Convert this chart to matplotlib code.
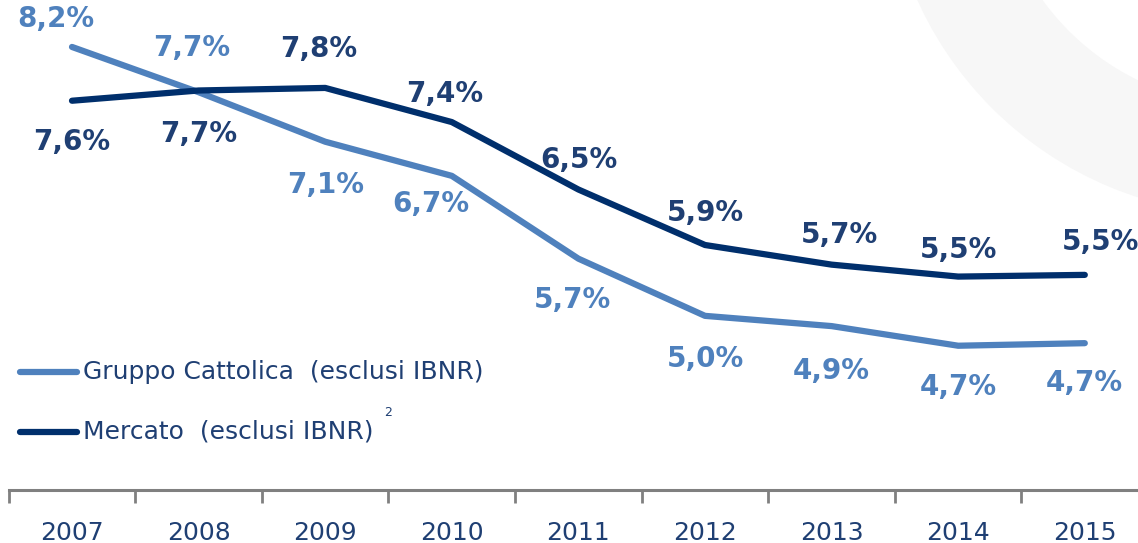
import numpy as np
import matplotlib
matplotlib.use("Agg")
import matplotlib.pyplot as plt
from matplotlib.patches import Wedge

years = ["2007", "2008", "2009", "2010", "2011", "2012", "2013", "2014", "2015"]
cattolica = [8.2, 7.67, 7.09, 6.69, 5.72, 5.05, 4.93, 4.70, 4.73]
mercato = [7.57, 7.69, 7.72, 7.32, 6.53, 5.88, 5.65, 5.51, 5.53]
cattolica_lbl = ["8,2%", "7,7%", "7,1%", "6,7%", "5,7%", "5,0%", "4,9%", "4,7%", "4,7%"]
mercato_lbl = ["7,6%", "7,7%", "7,8%", "7,4%", "6,5%", "5,9%", "5,7%", "5,5%", "5,5%"]

light = "#4F81BD"
dark = "#002F6C"
txt = "#1F3F73"

W, H = 1138, 543
fig = plt.figure(figsize=(W / 100, H / 100), dpi=100)

# background decoration (light grey ring top right)
bg = fig.add_axes([0, 0, 1, 1], zorder=0)
bg.set_xlim(0, W)
bg.set_ylim(H, 0)
bg.axis("off")
bg.add_patch(Wedge((1250, -150), 365, 0, 360, width=109, color="#F7F7F7", lw=0))

step = 126.6
left = 72 - step / 2
ax = fig.add_axes([left / W, 53 / H, 9 * step / W, 1 - 53 / H], zorder=1)
ax.patch.set_alpha(0)
x = np.arange(len(years))
ax.set_xlim(-0.5, 8.5)
ax.set_ylim(3.01, 8.75)

ax.plot(x, cattolica, color=light, lw=4.5, solid_capstyle="round", solid_joinstyle="round")
ax.plot(x, mercato, color=dark, lw=4.5, solid_capstyle="round", solid_joinstyle="round")

# label offsets in points (dx, dy)
c_off = [(-12, 20), (-5, 32), (0, -31), (-15, -20), (-4, -30), (0, -31), (0, -32), (0, -30), (0, -29)]
m_off = [(0, -30), (0, -31), (-5, 28), (-5, 20), (0, 21), (0, 23), (6, 21), (0, 19), (11, 24)]
for i in x:
    ax.annotate(cattolica_lbl[i], (x[i], cattolica[i]), xytext=c_off[i], textcoords="offset points",
                ha="center", va="center", fontsize=20, fontweight="bold", color=light)
    ax.annotate(mercato_lbl[i], (x[i], mercato[i]), xytext=m_off[i], textcoords="offset points",
                ha="center", va="center", fontsize=20, fontweight="bold", color=txt)

for s in ["top", "right", "left"]:
    ax.spines[s].set_visible(False)
ax.spines["bottom"].set_color("#808080")
ax.spines["bottom"].set_linewidth(2.2)
ax.set_yticks([])
ax.set_xticks(x)
ax.set_xticklabels(years, fontsize=18, color=txt)
ax.tick_params(axis="x", which="major", length=0, pad=22)
ax.set_xticks(np.arange(-0.5, 9, 1), minor=True)
ax.tick_params(axis="x", which="minor", length=9, width=2, color="#808080", direction="out")

# legend drawn by hand
fig.add_artist(plt.Line2D([20 / W, 77 / W], [1 - 372 / H, 1 - 372 / H], color=light, lw=4.5,
                          solid_capstyle="round"))
fig.add_artist(plt.Line2D([20 / W, 77 / W], [1 - 432 / H, 1 - 432 / H], color=dark, lw=4.5,
                          solid_capstyle="round"))
fig.text(83 / W, 1 - 372 / H, "Gruppo Cattolica  (esclusi IBNR)", fontsize=18, color=txt, va="center")
fig.text(83 / W, 1 - 432 / H, "Mercato  (esclusi IBNR)", fontsize=18, color=txt, va="center")
fig.text(384 / W, 1 - 413 / H, "2", fontsize=9, color=txt, va="center")

fig.savefig("out.png", dpi=100)
